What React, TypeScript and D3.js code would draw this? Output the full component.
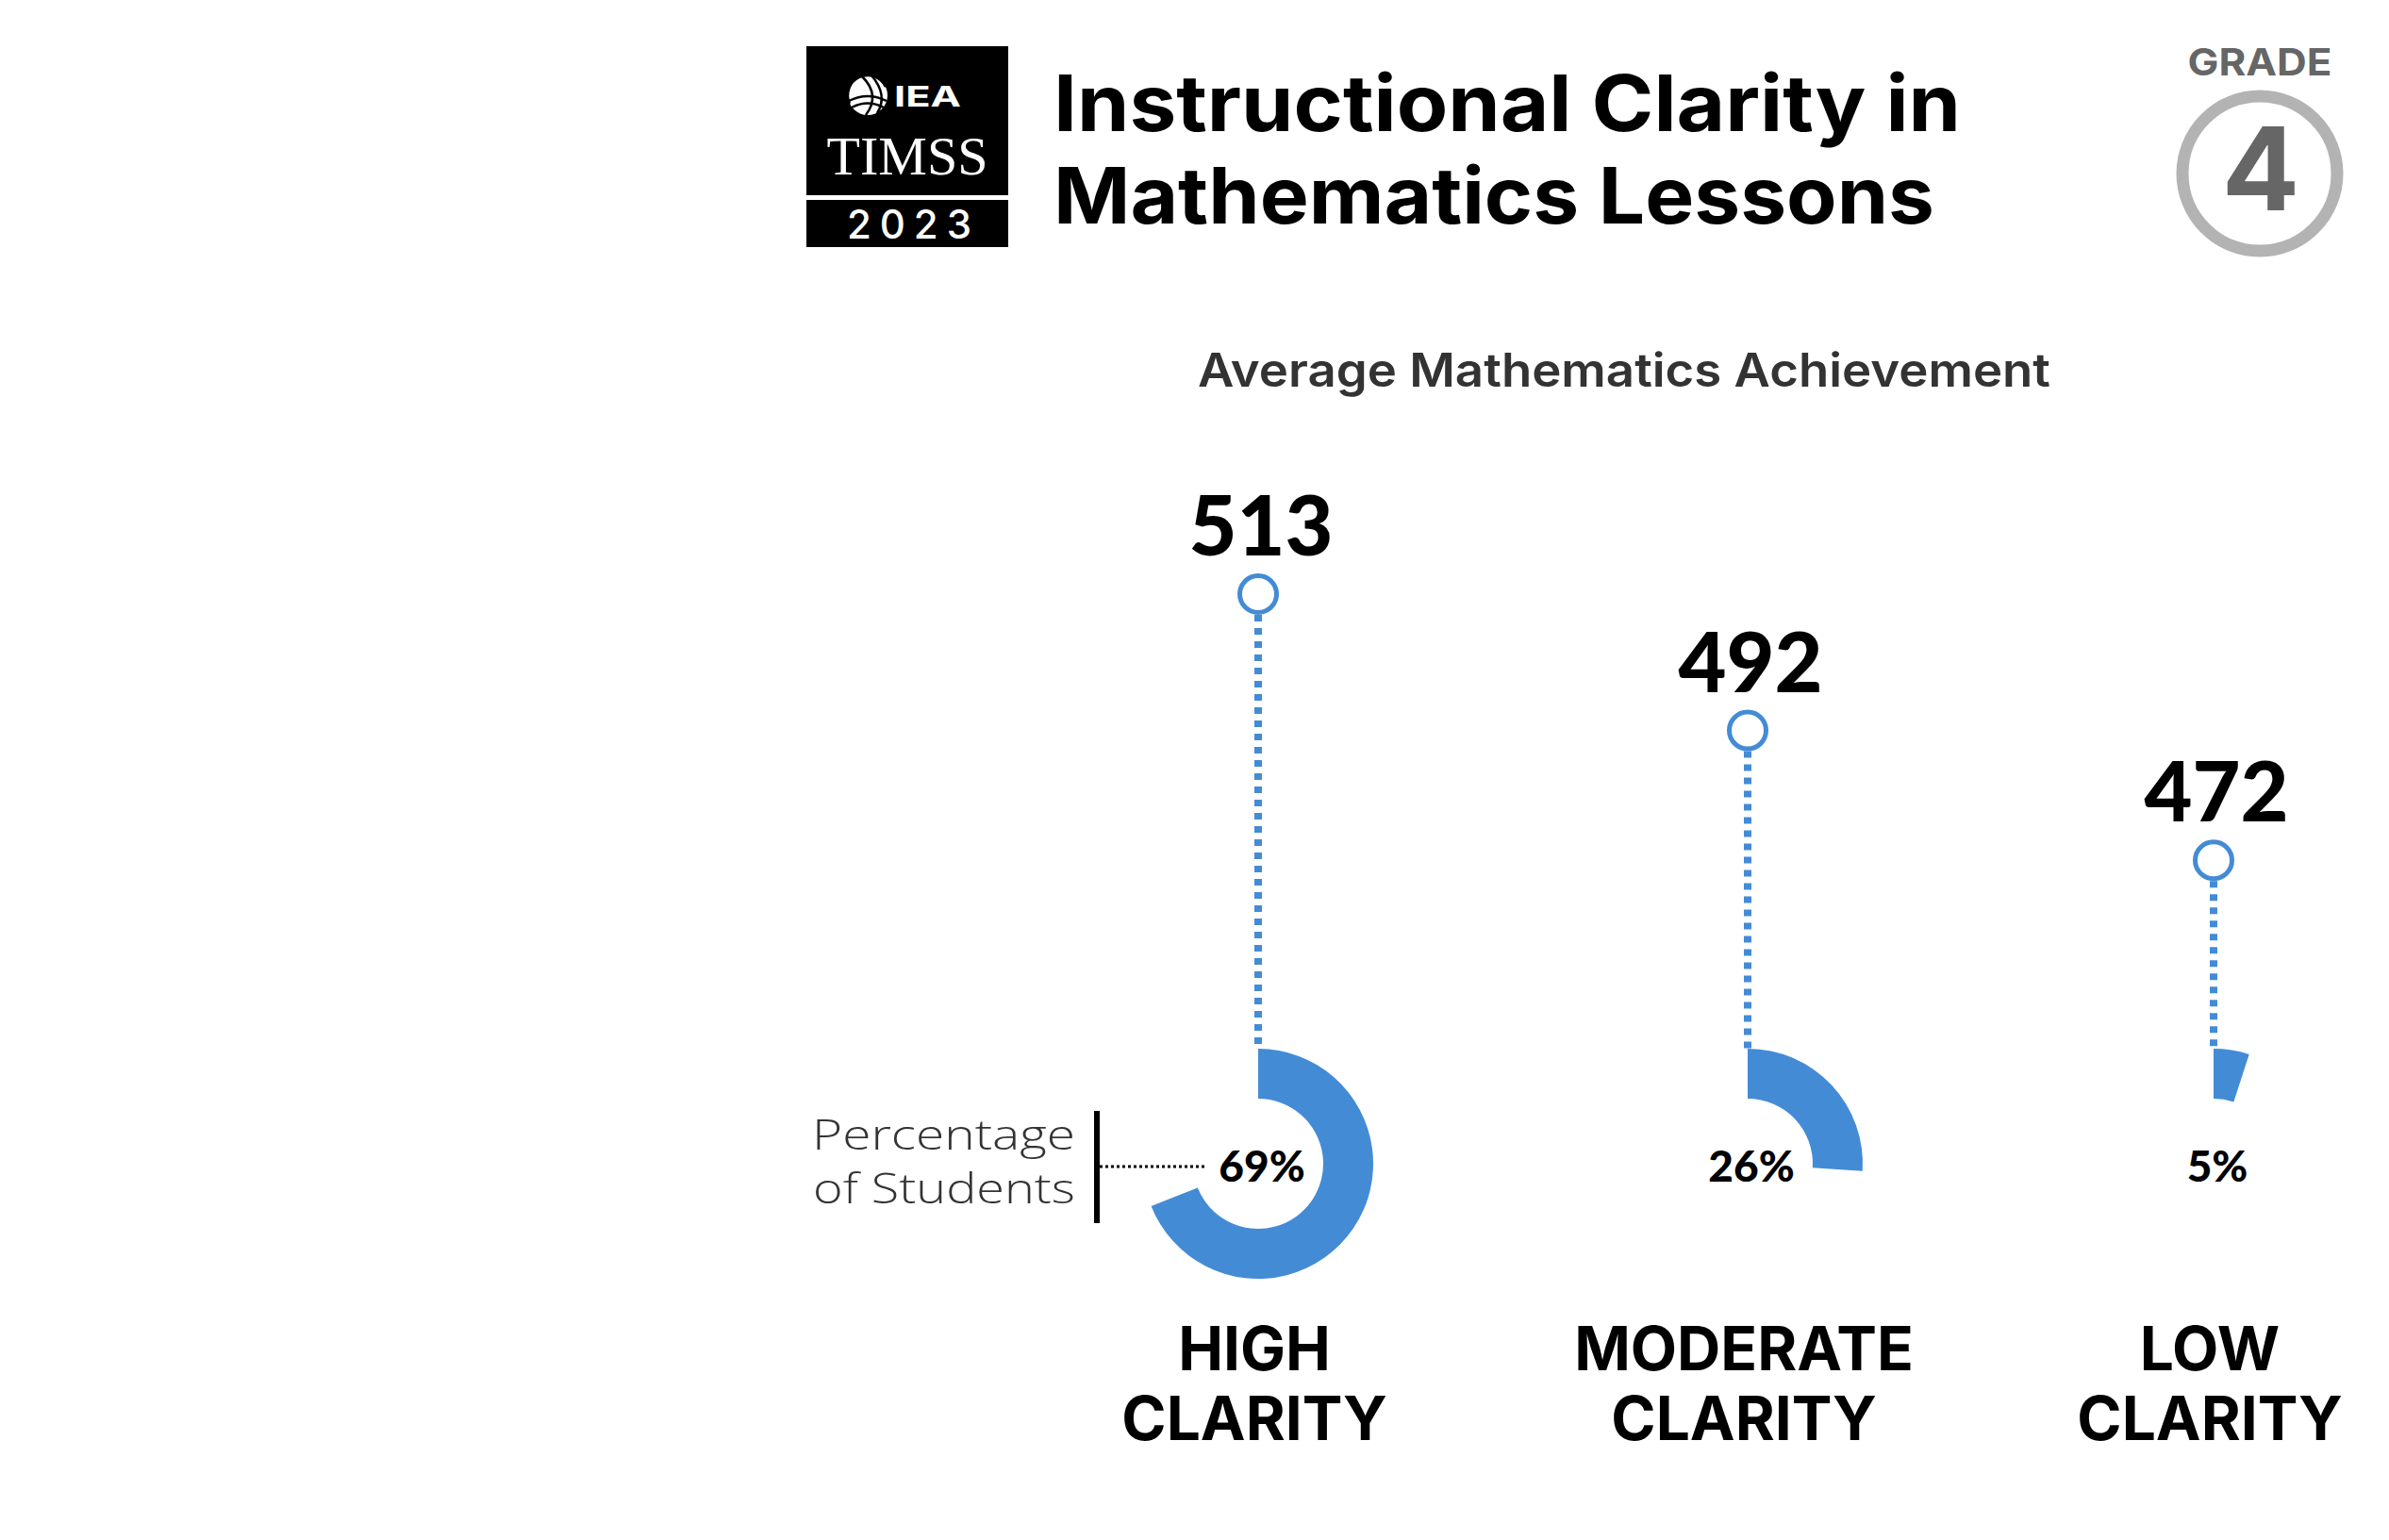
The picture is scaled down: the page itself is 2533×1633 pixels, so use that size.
import React from "react";
import * as d3 from "d3";

// chart data
const categories = ["HIGH", "MODERATE", "LOW"];
const categoryLine2 = ["CLARITY", "CLARITY", "CLARITY"];
const achievement = [513, 492, 472];
const percentStudents = [69, 26, 5];

const W = 2533;
const H = 1633;
const BLUE = "#448bd6";
const HEAD = "Inter, 'Open Sans', sans-serif";
const NUM = "Lato, sans-serif";

const App = () => {
  const x = d3.scaleOrdinal<string, number>().domain(categories).range([1334, 1853, 2347]);
  const y = d3.scaleLinear().domain([443, 513]).range([1112, 630]);
  const donutY = 1234;
  const arc = d3.arc().innerRadius(69).outerRadius(122).startAngle(0);
  const markerR = 19.5;

  return (
    <div style={{ position: "absolute", left: 0, top: 0 }}>
      <svg width={W} height={H} style={{ display: "block", background: "#fff" }}>
        {/* logo */}
        <g>
          <rect x={855} y={49} width={214} height={158} fill="#000" />
          <rect x={855} y={212} width={214} height={50} fill="#000" />
          <g transform="translate(920,101)" fill="none" stroke="#fff">
            <circle r={21} fill="#fff" stroke="none" />
            <path d="M-21,0 A21,21 0 0,1 21,0" stroke="#000" strokeWidth={2.5} transform="rotate(-25)" />
            <path d="M-20,6 Q0,-4 20,6" stroke="#000" strokeWidth={2.5} />
            <path d="M-17,13 Q0,4 17,13" stroke="#000" strokeWidth={2.5} />
            <path d="M-6,-20 Q14,0 -2,21" stroke="#000" strokeWidth={2.5} />
            <path d="M4,-21 Q22,0 10,19" stroke="#000" strokeWidth={2.5} />
          </g>
          <text x={948} y={113} fill="#fff" fontFamily={HEAD} fontWeight={700} fontSize={30}
            textLength={71} lengthAdjust="spacingAndGlyphs">IEA</text>
          <text x={962} y={185} fill="#fff" fontFamily="'Liberation Serif', serif" fontSize={57}
            textAnchor="middle" textLength={171} lengthAdjust="spacingAndGlyphs">TIMSS</text>
          <text x={964} y={253} fill="#fff" fontFamily={HEAD} fontWeight={500} fontSize={42}
            textAnchor="middle" textLength={132} lengthAdjust="spacing">2023</text>
        </g>

        {/* title */}
        <text fontFamily={HEAD} fontWeight={700} fontSize={83} fill="#000">
          <tspan x={1117} y={139} textLength={962} lengthAdjust="spacingAndGlyphs">Instructional Clarity in</tspan>
          <tspan x={1117} y={237} textLength={934} lengthAdjust="spacingAndGlyphs">Mathematics Lessons</tspan>
        </text>

        {/* grade badge */}
        <text x={2396} y={80} textAnchor="middle" fontFamily={HEAD} fontWeight={700} fontSize={40}
          fill="#666" textLength={153} lengthAdjust="spacingAndGlyphs">GRADE</text>
        <circle cx={2396} cy={184} r={82} fill="none" stroke="#b3b3b3" strokeWidth={13} />
        <text x={2397} y={223} textAnchor="middle" fontFamily={HEAD} fontWeight={700} fontSize={122}
          fill="#666">4</text>

        {/* subtitle */}
        <text x={1722} y={410} textAnchor="middle" fontFamily={HEAD} fontWeight={600} fontSize={49}
          fill="#333" textLength={904} lengthAdjust="spacingAndGlyphs">Average Mathematics Achievement</text>

        {/* lollipops + donuts */}
        {categories.map((c, i) => {
          const cx = x(c);
          const cy = y(achievement[i]);
          return (
            <g key={c}>
              <line x1={cx} x2={cx} y1={cy + markerR + 2.5} y2={y(443)} stroke={BLUE}
                strokeWidth={8} strokeDasharray="7 7" />
              <circle cx={cx} cy={cy} r={markerR} fill="#fff" stroke={BLUE} strokeWidth={5} />
              <text x={cx + 3} y={cy - 41} textAnchor="middle" fontFamily={NUM} fontWeight={900}
                fontSize={88} fill="#000">{achievement[i]}</text>
              <path transform={`translate(${cx},${donutY})`} fill={BLUE}
                d={arc({ endAngle: (percentStudents[i] / 100) * 2 * Math.PI } as any) as string} />
              <text x={cx + 4} y={donutY + 19} textAnchor="middle" fontFamily={NUM} fontWeight={900}
                fontSize={46} fill="#000">{percentStudents[i]}%</text>
              <text textAnchor="middle" fontFamily={HEAD} fontWeight={700} fontSize={64} fill="#000">
                <tspan x={cx - 4} y={1453}>{c}</tspan>
                <tspan x={cx - 4} y={1527}>{categoryLine2[i]}</tspan>
              </text>
            </g>
          );
        })}

        {/* percentage annotation */}
        <text textAnchor="end" fontFamily="'Open Sans', sans-serif" fontWeight={300} fontSize={45} fill="#333">
          <tspan x={1140} y={1219} textLength={279} lengthAdjust="spacingAndGlyphs">Percentage</tspan>
          <tspan x={1140} y={1276} textLength={278} lengthAdjust="spacingAndGlyphs">of Students</tspan>
        </text>
        <line x1={1163} x2={1163} y1={1178} y2={1297} stroke="#000" strokeWidth={6} />
        <line x1={1166} x2={1279} y1={1237} y2={1237} stroke="#000" strokeWidth={3} strokeDasharray="3 3" />
      </svg>
    </div>
  );
};

export default App;
